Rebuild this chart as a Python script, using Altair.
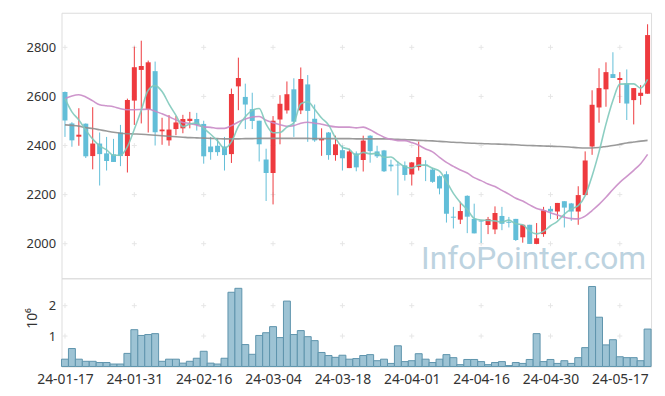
import altair as alt
import pandas as pd

dates = [
    "24-01-17", "24-01-18", "24-01-19", "24-01-22", "24-01-23", "24-01-24", "24-01-25", "24-01-26", "24-01-29", "24-01-30",
    "24-01-31", "24-02-01", "24-02-02", "24-02-05", "24-02-06", "24-02-07", "24-02-08", "24-02-13", "24-02-14", "24-02-15",
    "24-02-16", "24-02-19", "24-02-20", "24-02-21", "24-02-22", "24-02-23", "24-02-26", "24-02-27", "24-02-28", "24-02-29",
    "24-03-04", "24-03-05", "24-03-06", "24-03-07", "24-03-08", "24-03-11", "24-03-12", "24-03-13", "24-03-14", "24-03-15",
    "24-03-18", "24-03-19", "24-03-20", "24-03-21", "24-03-22", "24-03-25", "24-03-26", "24-03-27", "24-03-28", "24-03-29",
    "24-04-01", "24-04-02", "24-04-03", "24-04-04", "24-04-05", "24-04-08", "24-04-09", "24-04-11", "24-04-12", "24-04-15",
    "24-04-16", "24-04-17", "24-04-18", "24-04-19", "24-04-22", "24-04-23", "24-04-24", "24-04-25", "24-04-26", "24-04-29",
    "24-04-30", "24-05-02", "24-05-03", "24-05-07", "24-05-08", "24-05-09", "24-05-10", "24-05-13", "24-05-14", "24-05-16",
    "24-05-17", "24-05-20", "24-05-21", "24-05-22", "24-05-23", "24-05-24",
][:85]

opens = [2618, 2490, 2436, 2489, 2357, 2408, 2368, 2364, 2453, 2357,
         2583, 2708, 2547, 2703, 2458, 2421, 2467, 2470, 2500, 2508,
         2488, 2396, 2399, 2396, 2365, 2641, 2598, 2548, 2501, 2343,
         2288, 2506, 2543, 2629, 2543, 2649, 2509, 2421, 2453, 2361,
         2381, 2308, 2368, 2341, 2440, 2376, 2380, 2322, 2322, 2319,
         2282, 2312, 2322, 2302, 2275, 2283, 2110, 2098, 2195, 2101,
         2094, 2076, 2058, 2113, 2089, 2101, 2026, 2077, 1999, 2039,
         2142, 2131, 2173, 2164, 2131, 2198, 2396, 2555, 2629, 2691,
         2667, 2653, 2585, 2602, 2611]
closes = [2502, 2421, 2444, 2356, 2408, 2365, 2337, 2333, 2357, 2585,
          2719, 2724, 2739, 2454, 2465, 2465, 2494, 2508, 2509, 2484,
          2356, 2373, 2373, 2361, 2610, 2675, 2567, 2500, 2405, 2288,
          2501, 2570, 2609, 2497, 2671, 2541, 2421, 2428, 2361, 2405,
          2348, 2376, 2311, 2420, 2377, 2356, 2295, 2315, 2319, 2280,
          2331, 2353, 2318, 2252, 2225, 2122, 2106, 2133, 2110, 2042,
          2090, 2100, 2125, 2081, 2085, 2015, 2077, 1999, 2022, 2136,
          2131, 2166, 2147, 2131, 2198, 2339, 2566, 2634, 2699, 2675,
          2675, 2571, 2634, 2615, 2850]
highs = [2620, 2495, 2552, 2490, 2556, 2453, 2435, 2427, 2484, 2591,
         2803, 2827, 2746, 2742, 2513, 2524, 2520, 2525, 2537, 2533,
         2501, 2435, 2427, 2435, 2632, 2758, 2652, 2615, 2501, 2387,
         2520, 2605, 2661, 2674, 2718, 2687, 2567, 2470, 2455, 2440,
         2400, 2387, 2376, 2440, 2442, 2399, 2382, 2342, 2335, 2335,
         2333, 2416, 2340, 2309, 2278, 2295, 2150, 2171, 2197, 2163,
         2097, 2109, 2152, 2150, 2109, 2101, 2077, 2077, 2084, 2150,
         2153, 2166, 2173, 2166, 2234, 2376, 2625, 2715, 2739, 2780,
         2699, 2710, 2634, 2646, 2894]
lows = [2435, 2395, 2399, 2349, 2303, 2237, 2298, 2333, 2316, 2290,
        2484, 2490, 2453, 2400, 2403, 2399, 2442, 2450, 2470, 2461,
        2326, 2342, 2358, 2298, 2329, 2544, 2467, 2467, 2335, 2174,
        2160, 2405, 2530, 2435, 2528, 2415, 2415, 2358, 2342, 2338,
        2298, 2308, 2295, 2294, 2330, 2349, 2292, 2295, 2197, 2257,
        2237, 2298, 2255, 2248, 2201, 2086, 2062, 2080, 2043, 2042,
        2003, 2039, 2039, 2055, 2066, 2011, 2004, 1999, 1998, 2028,
        2100, 2100, 2066, 2093, 2077, 2198, 2362, 2493, 2558, 2675,
        2573, 2504, 2486, 2566, 2611]
volumes = [240000, 590000, 240000, 170000, 170000, 130000, 130000, 80000, 80000, 430000,
           1210000, 1020000, 1050000, 1080000, 170000, 240000, 240000, 110000, 170000, 270000,
           500000, 110000, 80000, 270000, 2440000, 2570000, 720000, 400000, 1020000, 1110000,
           1310000, 950000, 2150000, 1050000, 1180000, 980000, 850000, 460000, 360000, 300000,
           370000, 240000, 260000, 360000, 390000, 190000, 240000, 100000, 680000, 160000,
           190000, 420000, 240000, 130000, 240000, 390000, 290000, 60000, 230000, 230000,
           160000, 60000, 130000, 160000, 30000, 130000, 100000, 230000, 1080000, 160000,
           230000, 100000, 190000, 100000, 290000, 620000, 2630000, 1620000, 710000, 880000,
           320000, 290000, 290000, 190000, 1230000]
ma5 = [2591, 2537, 2504, 2463, 2426, 2399, 2382, 2360, 2360, 2395,
       2466, 2544, 2625, 2644, 2620, 2569, 2523, 2477, 2488, 2492,
       2470, 2446, 2419, 2389, 2415, 2478, 2517, 2543, 2551, 2487,
       2452, 2453, 2475, 2493, 2570, 2578, 2548, 2512, 2484, 2431,
       2393, 2384, 2360, 2372, 2366, 2368, 2352, 2353, 2332, 2313,
       2308, 2320, 2320, 2307, 2296, 2254, 2205, 2168, 2139, 2103,
       2096, 2095, 2093, 2088, 2096, 2081, 2077, 2051, 2040, 2050,
       2073, 2091, 2120, 2142, 2155, 2196, 2276, 2374, 2487, 2583,
       2650, 2651, 2651, 2634, 2669]
ma20 = [2591, 2602, 2607, 2598, 2582, 2566, 2562, 2558, 2550, 2546,
        2546, 2547, 2548, 2540, 2529, 2517, 2504, 2494, 2490, 2483,
        2476, 2474, 2470, 2470, 2481, 2496, 2508, 2516, 2518, 2503,
        2493, 2485, 2478, 2481, 2491, 2495, 2491, 2487, 2480, 2476,
        2475, 2475, 2472, 2475, 2464, 2448, 2434, 2425, 2420, 2420,
        2412, 2401, 2386, 2374, 2352, 2331, 2315, 2300, 2288, 2269,
        2257, 2243, 2233, 2217, 2202, 2185, 2174, 2158, 2143, 2136,
        2126, 2117, 2108, 2102, 2101, 2112, 2135, 2160, 2189, 2221,
        2250, 2274, 2299, 2326, 2364]
ma120 = [2484, 2482, 2479, 2473, 2469, 2464, 2459, 2454, 2450, 2448,
         2447, 2446, 2444, 2442, 2440, 2438, 2436, 2434, 2432, 2431,
         2430, 2429, 2428, 2427, 2427, 2427, 2428, 2428, 2429, 2429,
         2429, 2429, 2429, 2429, 2429, 2429, 2428, 2428, 2428, 2428,
         2428, 2428, 2427, 2427, 2427, 2427, 2427, 2426, 2425, 2424,
         2423, 2421, 2420, 2419, 2417, 2415, 2413, 2412, 2410, 2409,
         2408, 2407, 2406, 2405, 2404, 2403, 2401, 2400, 2399, 2398,
         2397, 2396, 2395, 2393, 2391, 2390, 2390, 2392, 2396, 2400,
         2405, 2410, 2414, 2418, 2421]

price_ticks = [2000, 2200, 2400, 2600, 2800]
volume_ticks = [1000000, 2000000]
x_tick_idx = list(range(0, 85, 10))
x_tick_labels = [dates[k] for k in x_tick_idx]

n = len(closes)
df = pd.DataFrame({
    "i": list(range(n)), "date": dates, "open": opens, "high": highs, "low": lows,
    "close": closes, "volume": volumes, "ma5": ma5, "ma20": ma20, "ma120": ma120,
})
df["dir"] = ["up" if c >= o else "down" for o, c in zip(opens, closes)]

RED = "#ee3a3e"
BLUE = "#62bed8"
FONT = "Noto Sans"
TXT = "#333333"

xs = alt.Scale(domain=[-0.5, n - 0.5], nice=False, zero=False)
ys = alt.Scale(domain=[1859, 2941], nice=False, zero=False)
vs = alt.Scale(domain=[0, 2900000], nice=False)
color_enc = alt.Color("dir:N", scale=alt.Scale(domain=["up", "down"], range=[RED, BLUE]), legend=None)

price_axis = alt.Axis(values=price_ticks, format="d", grid=False, ticks=False, domain=False,
                      labelPadding=6, labelAlign="right", labelFontSize=13, labelColor=TXT, labelFont=FONT, title=None)

grid_price = pd.DataFrame([{"i": xi, "v": yv} for xi in x_tick_idx for yv in price_ticks])
grid_vol = pd.DataFrame([{"i": xi, "v": yv} for xi in x_tick_idx for yv in volume_ticks])
CROSS = "M-1,0H1M0,-1V1"
CROSS_COLOR = "#e6e6e6"

cross_p = alt.Chart(grid_price).mark_point(shape=CROSS, size=25, filled=False, stroke=CROSS_COLOR, strokeWidth=1, opacity=1).encode(
    x=alt.X("i:Q", scale=xs, axis=None), y=alt.Y("v:Q", scale=ys, axis=price_axis))

watermark = alt.Chart(pd.DataFrame({"t": ["InfoPointer.com"]})).mark_text(
    font="Roboto", fontSize=32, color="#bdd3e0", align="right", baseline="alphabetic").encode(
    x=alt.value(590), y=alt.value(259), text="t:N")

base = alt.Chart(df)
wicks = base.mark_rule(strokeWidth=1).encode(
    x=alt.X("i:Q", scale=xs, axis=None), y=alt.Y("low:Q", scale=ys, axis=price_axis), y2="high:Q", color=color_enc)
bodies = base.transform_calculate(x0="datum.i - 0.36", x1="datum.i + 0.36").mark_rect().encode(
    x=alt.X("x0:Q", scale=xs, axis=None), x2="x1:Q",
    y=alt.Y("open:Q", scale=ys, axis=price_axis), y2="close:Q", color=color_enc)

def ma_line(field, color, width):
    return base.mark_line(color=color, strokeWidth=width, interpolate="monotone", opacity=0.9).encode(
        x=alt.X("i:Q", scale=xs, axis=None), y=alt.Y(f"{field}:Q", scale=ys, axis=price_axis))

top = alt.layer(
    cross_p, watermark, wicks, bodies,
    ma_line("ma120", "#8f8f8f", 1.6),
    ma_line("ma20", "#c98bc6", 1.6),
    ma_line("ma5", "#80c9bb", 1.6),
).properties(width=595, height=268)

vol_axis = alt.Axis(values=volume_ticks, labelExpr="datum.value / 1000000", grid=False, ticks=False,
                    domain=False, labelPadding=6, labelAlign="right", labelFontSize=13, labelColor=TXT,
                    labelFont=FONT, title="10⁶", titleFont=FONT, titleFontSize=14, titleFontWeight="normal",
                    titleColor=TXT, titleX=-29, titleY=40, titleAngle=270, titleAlign="center",
                    titleBaseline="middle")
label_expr = "[" + ",".join(f"'{t}'" for t in x_tick_labels) + "][round(datum.value / 10)]"
x_axis = alt.Axis(values=x_tick_idx, labelExpr=label_expr, grid=False, ticks=False, domain=False,
                  labelPadding=6, labelFontSize=14, labelColor=TXT, labelFont=FONT, labelFlush=False,
                  labelOverlap=False, title=None)

cross_v = alt.Chart(grid_vol).mark_point(shape=CROSS, size=25, filled=False, stroke=CROSS_COLOR, strokeWidth=1, opacity=1).encode(
    x=alt.X("i:Q", scale=xs, axis=x_axis), y=alt.Y("v:Q", scale=vs, axis=vol_axis))
vol_bars = base.transform_calculate(x0="datum.i - 0.5", x1="datum.i + 0.5").mark_rect(
    fill="#9dc3d4", stroke="#5e94ac", strokeWidth=1).encode(
    x=alt.X("x0:Q", scale=xs, axis=x_axis), x2="x1:Q",
    y=alt.Y("volume:Q", scale=vs, axis=vol_axis), y2=alt.datum(0))

bottom = alt.layer(cross_v, vol_bars).properties(width=595, height=89)

chart = alt.vconcat(top, bottom, spacing=0, bounds="flush").properties(
    padding={"left": 17, "top": 2, "right": 5, "bottom": 5}
).configure_view(stroke="#e2e2e2", strokeWidth=1).configure(background="white")

chart.save("out.html", embed_options={"renderer": "svg", "actions": False})
